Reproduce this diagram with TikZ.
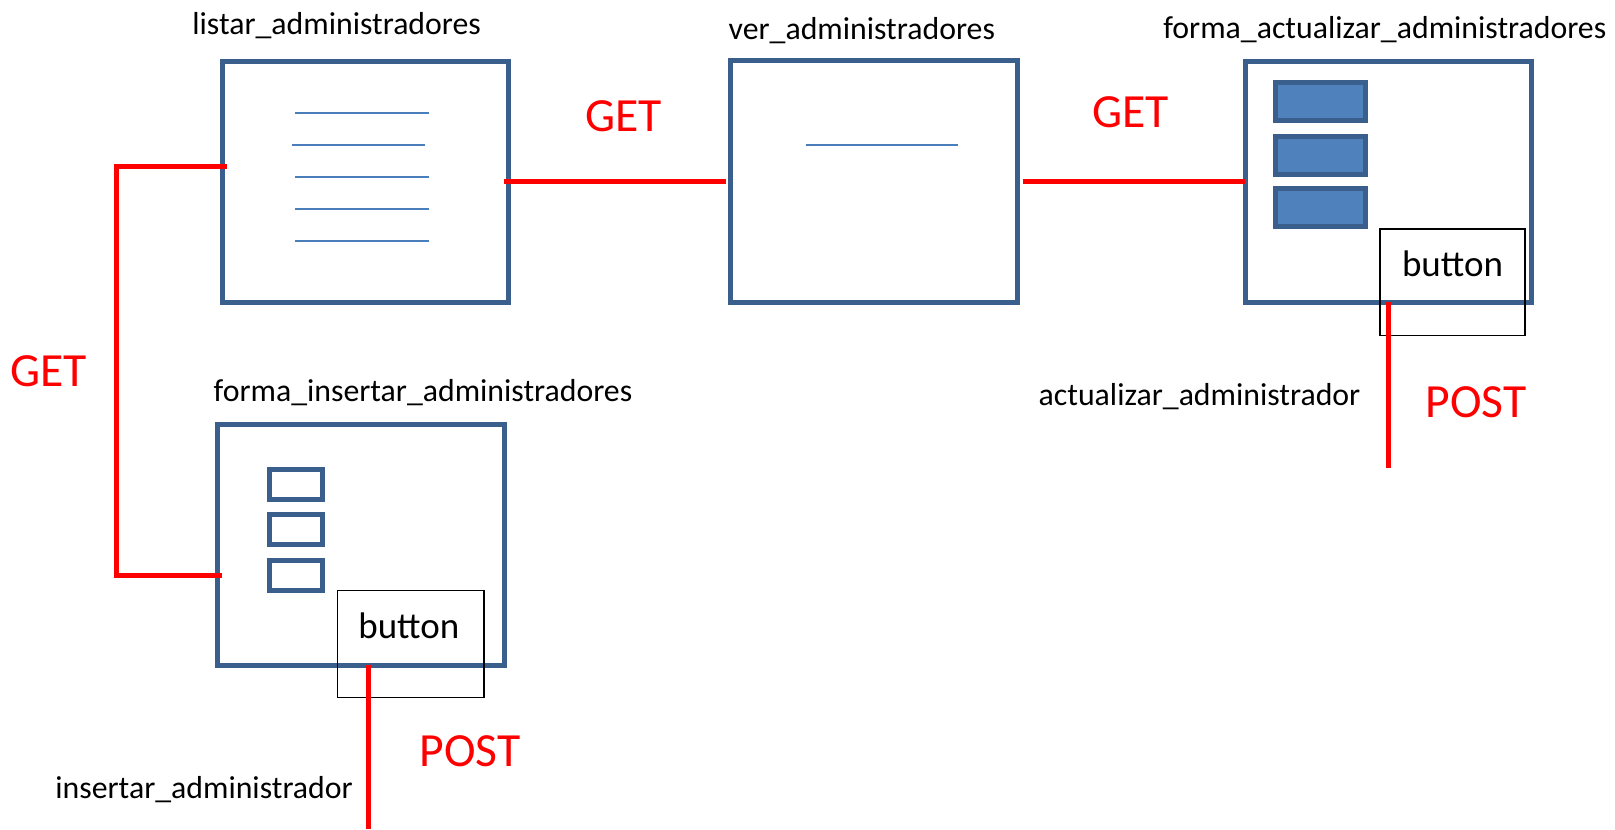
\documentclass[tikz,border=0pt]{standalone}
\usepackage{fontspec}
\setmainfont{Carlito}
\usetikzlibrary{calc}

\definecolor{frameblue}{HTML}{3B5F8C}
\definecolor{fillblue}{HTML}{4F81BD}
\definecolor{lineblue}{HTML}{4A7EBB}
\definecolor{linkred}{HTML}{FF0000}

\tikzset{
  pagebox/.style={draw=frameblue, line width=2.5pt, inner sep=0pt, outer sep=0pt},
  fieldbox/.style={draw=frameblue, line width=2.5pt, inner sep=0pt, outer sep=0pt,
    minimum width=26.35pt, minimum height=15pt},
  filledfield/.style={draw=frameblue, fill=fillblue, line width=2.5pt, inner sep=0pt, outer sep=0pt,
    minimum width=45.3pt, minimum height=19.15pt},
  btnbox/.style={draw=black, line width=0.6pt, inner sep=0pt, outer sep=0pt},
  btntext/.style={anchor=base, inner sep=0pt, font=\fontsize{18.5pt}{21pt}\selectfont},
  title/.style={anchor=base west, inner sep=0pt, font=\fontsize{15.9pt}{18pt}\selectfont},
  verb/.style={anchor=base west, inner sep=0pt, text=linkred, font=\fontsize{23.8pt}{27pt}\selectfont},
  listline/.style={draw=lineblue, line width=0.85pt},
  link/.style={draw=linkred, line width=2.5pt, line join=miter}
}

\begin{document}
\begin{tikzpicture}[x=0.5pt, y=-0.5pt]
\useasboundingbox (0,0) rectangle (1615,829);

% page frames
\node[pagebox, minimum width=143pt, minimum height=120.25pt] (listar) at (365.5,181.75) {};
\node[pagebox, minimum width=143.6pt, minimum height=120.75pt] (ver) at (874.3,181.75) {};
\node[pagebox, minimum width=143.25pt, minimum height=120.25pt] (actualizar) at (1388.25,181.75) {};
\node[pagebox, minimum width=143.25pt, minimum height=120.5pt] (insertar) at (360.75,544.5) {};

% page titles
\node[title] (t-listar) at (192,35) {listar\_administradores};
\node[title] (t-ver) at (728.3,40) {ver\_administradores};
\node[title] (t-actualizar) at (1163,38.3) {forma\_actualizar\_administradores};
\node[title] (t-insertar) at (213.3,401.7) {forma\_insertar\_administradores};

% list rows
\draw[listline] (295.3,112.7) -- (428.7,112.7);
\draw[listline] (292,145) -- (425,145);
\draw[listline] (295.3,176.7) -- (428.7,176.7);
\draw[listline] (295.3,208.7) -- (428.7,208.7);
\draw[listline] (295.3,240.7) -- (428.7,240.7);

% detail row
\draw[listline] (805.7,145) -- (958.2,145);

% form fields
\node[fieldbox] (fi1) at (296.2,484.2) {};
\node[fieldbox] (fi2) at (296.2,529.8) {};
\node[fieldbox] (fi3) at (296.2,575.2) {};
\node[filledfield] (fa1) at (1320.5,101.7) {};
\node[filledfield] (fa2) at (1320.5,155.7) {};
\node[filledfield] (fa3) at (1320.5,207.7) {};

% buttons
\node[btnbox, minimum width=73.35pt, minimum height=53.5pt] (bi) at (410.7,644.2) {};
\node[btntext] (bi-text) at (408.8,638.3) {button};
\node[btnbox, minimum width=72.5pt, minimum height=53.35pt] (ba) at (1452.5,282.3) {};
\node[btntext] (ba-text) at (1452.5,276) {button};

% request links
\coordinate (g-top) at (116,166.7);
\coordinate (g-bot) at (116,575);
\draw[link, shorten <=-2pt, shorten >=-2pt]
  (listar.west |- g-top) -- (g-top) -- (g-bot) -- (insertar.west |- g-bot);
\draw[link, shorten <=-2.25pt, shorten >=2.5pt] (listar.east) -- (ver.west);
\draw[link, shorten <=2.5pt] (ver.east) -- (actualizar.west);
\coordinate (pi-end) at (368,829);
\draw[link] (pi-end |- insertar.south) -- (pi-end);
\coordinate (pa-end) at (1388.7,468.3);
\draw[link] (pa-end |- actualizar.south) -- (pa-end);

% method labels
\node[verb] (get-left) at (10,386.7) {GET};
\node[verb] (get-1) at (584.6,131.7) {GET};
\node[verb] (get-2) at (1091.7,127.7) {GET};
\node[verb] (post-1) at (419.3,766.7) {POST};
\node[verb] (post-2) at (1425,417.3) {POST};

% handler names
\node[title] (h-insertar) at (55,798.3) {insertar\_administrador};
\node[title] (h-actualizar) at (1038.3,405) {actualizar\_administrador};
\end{tikzpicture}
\end{document}
